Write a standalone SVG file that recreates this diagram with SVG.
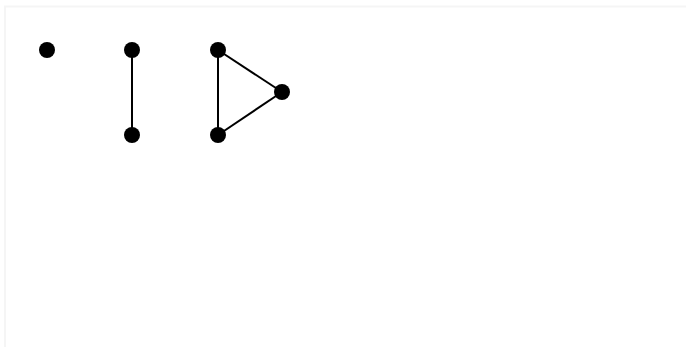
<svg xmlns="http://www.w3.org/2000/svg" width="686" height="347" viewBox="0 0 686 347">
<style>
.n{fill:#000}
.e{stroke:#000;stroke-width:2;fill:none}
.frame{stroke:#f5f5f5;stroke-width:2;fill:none}
</style>
<rect width="686" height="347" fill="#fff"/>
<path class="frame" d="M5,347 V6.5 H686"/>
<g id="connectors">
<line class="e" x1="132" y1="50" x2="132" y2="135"/>
<line class="e" x1="218" y1="50" x2="218" y2="135"/>
<line class="e" x1="218" y1="50" x2="282" y2="92"/>
<line class="e" x1="218" y1="135" x2="282" y2="92"/>
</g>
<g id="n1"><circle class="n" cx="47" cy="50" r="8"/></g>
<g id="n2"><circle class="n" cx="132" cy="50" r="8"/></g>
<g id="n3"><circle class="n" cx="132" cy="135" r="8"/></g>
<g id="n4"><circle class="n" cx="218" cy="50" r="8"/></g>
<g id="n5"><circle class="n" cx="218" cy="135" r="8"/></g>
<g id="n6"><circle class="n" cx="282" cy="92" r="8"/></g>
</svg>
